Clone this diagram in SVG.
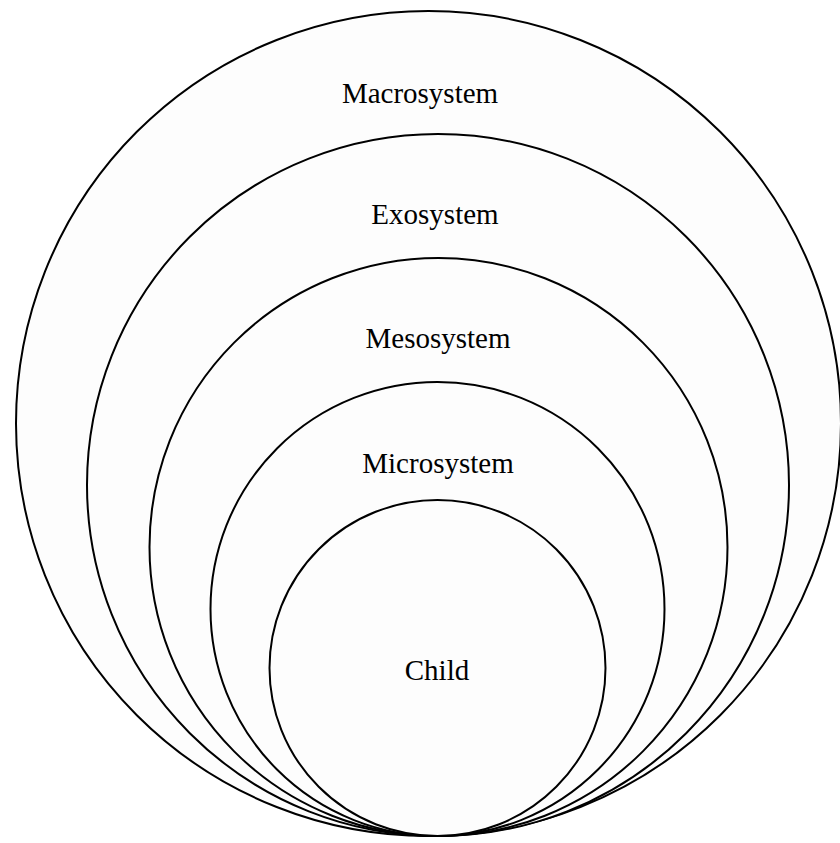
<svg xmlns="http://www.w3.org/2000/svg" width="840" height="843" viewBox="0 0 840 843">
<style>
.ring{fill:#fdfdfd;stroke:#000;stroke-width:2}
.lbl{font-family:"Liberation Serif","Times New Roman",serif;font-size:29px;fill:#000;text-anchor:middle}
</style>
<rect width="840" height="843" fill="#fff"/>
<g id="macrosystem"><circle class="ring" cx="428.5" cy="423.5" r="412.5"/><text class="lbl" x="420" y="103">Macrosystem</text></g>
<g id="exosystem"><circle class="ring" cx="438" cy="485" r="351"/><text class="lbl" x="435" y="224">Exosystem</text></g>
<g id="mesosystem"><circle class="ring" cx="438.5" cy="547" r="289"/><text class="lbl" x="438" y="348">Mesosystem</text></g>
<g id="microsystem"><circle class="ring" cx="437.5" cy="609" r="227"/><text class="lbl" x="438" y="473">Microsystem</text></g>
<g id="child"><circle class="ring" cx="437.5" cy="668" r="168"/><text class="lbl" x="437" y="680">Child</text></g>
<g id="connectors"/>
</svg>
